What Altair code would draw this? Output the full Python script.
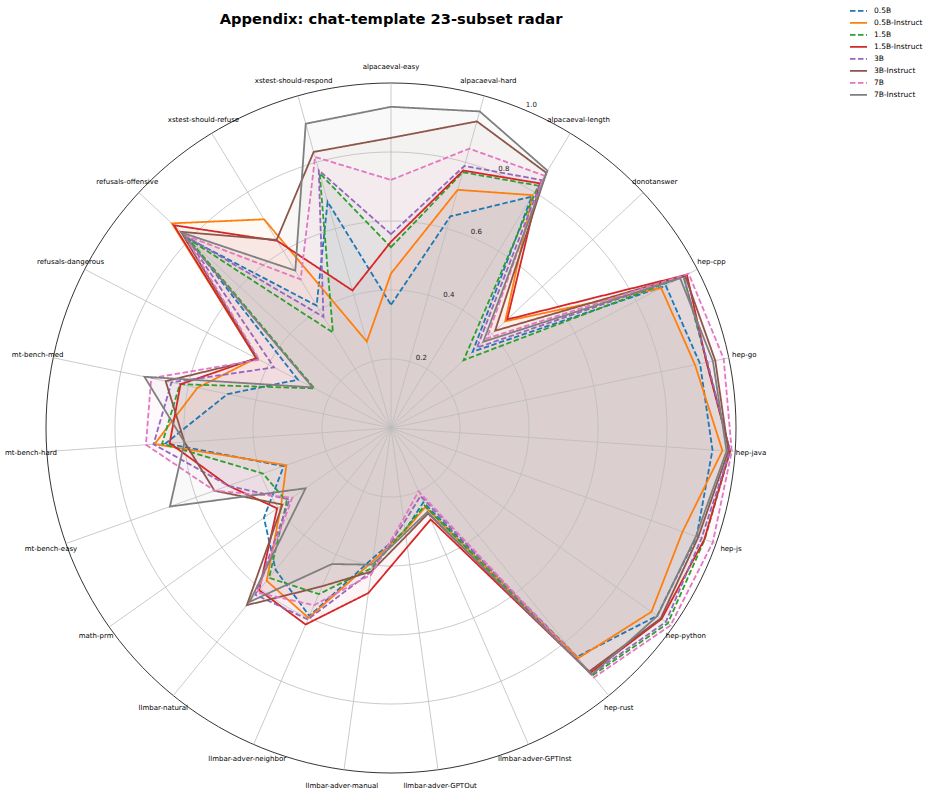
import altair as alt
import pandas as pd

# ---------------- data ----------------
categories = [
    "alpacaeval-easy", "alpacaeval-hard", "alpacaeval-length", "donotanswer",
    "hep-cpp", "hep-go", "hep-java", "hep-js", "hep-python", "hep-rust",
    "llmbar-adver-GPTInst", "llmbar-adver-GPTOut", "llmbar-adver-manual",
    "llmbar-adver-neighbor", "llmbar-natural", "math-prm", "mt-bench-easy",
    "mt-bench-hard", "mt-bench-med", "refusals-dangerous", "refusals-offensive",
    "xstest-should-refuse", "xstest-should-respond",
]

series_names = ["0.5B", "0.5B-Instruct", "1.5B", "1.5B-Instruct",
                "3B", "3B-Instruct", "7B", "7B-Instruct"]
series_colors = ["#1f77b4", "#ff7f0e", "#2ca02c", "#d62728",
                 "#9467bd", "#8c564b", "#e377c2", "#7f7f7f"]
series_dashed = [True, False, True, False, True, False, True, False]

v_05b = [0.357, 0.637, 0.785, 0.324, 0.897, 0.915, 0.934, 0.940, 0.944, 0.855, 0.235, 0.300,
         0.380, 0.594, 0.530, 0.451, 0.330, 0.655, 0.484, 0.304, 0.806, 0.415, 0.681]
v_05b_inst = [0.448, 0.717, 0.790, 0.453, 0.882, 0.900, 0.963, 0.897, 0.924, 0.860, 0.250, 0.300,
              0.390, 0.600, 0.571, 0.390, 0.322, 0.687, 0.573, 0.440, 0.869, 0.708, 0.260]
v_15b = [0.524, 0.770, 0.822, 0.288, 0.955, 0.935, 0.985, 0.965, 0.982, 0.925, 0.245, 0.297,
         0.410, 0.525, 0.560, 0.370, 0.394, 0.665, 0.625, 0.250, 0.803, 0.324, 0.767]
v_15b_inst = [0.540, 0.775, 0.830, 0.461, 0.966, 0.934, 0.985, 0.964, 0.960, 0.915, 0.289, 0.348,
              0.483, 0.621, 0.606, 0.404, 0.500, 0.643, 0.623, 0.440, 0.861, 0.635, 0.414]
v_3b = [0.562, 0.789, 0.841, 0.341, 0.955, 0.937, 0.985, 0.955, 0.975, 0.920, 0.215, 0.277,
        0.420, 0.605, 0.623, 0.360, 0.500, 0.690, 0.650, 0.382, 0.816, 0.377, 0.776]
v_3b_inst = [0.841, 0.923, 0.866, 0.413, 0.960, 0.960, 0.980, 0.945, 0.957, 0.910, 0.270, 0.317,
             0.420, 0.500, 0.662, 0.385, 0.543, 0.600, 0.667, 0.435, 0.833, 0.638, 0.831]
v_7b = [0.719, 0.841, 0.856, 0.380, 0.972, 0.985, 0.990, 0.990, 0.992, 0.932, 0.200, 0.266,
        0.430, 0.560, 0.615, 0.350, 0.543, 0.712, 0.710, 0.430, 0.820, 0.504, 0.816]
v_7b_inst = [0.931, 0.953, 0.873, 0.366, 0.944, 0.953, 0.975, 0.938, 0.945, 0.922, 0.265, 0.307,
             0.400, 0.430, 0.650, 0.303, 0.680, 0.600, 0.730, 0.256, 0.830, 0.534, 0.916]

all_values = [v_05b, v_05b_inst, v_15b, v_15b_inst, v_3b, v_3b_inst, v_7b, v_7b_inst]

grid_levels = [0.2, 0.4, 0.6, 0.8]
tick_values = [0.2, 0.4, 0.6, 0.8, 1.0]
tick_labels = ["0.2", "0.4", "0.6", "0.8", "1.0"]

TITLE = "Appendix: chat-template 23-subset radar"

# ---------------- tables ----------------
N = len(categories)
rows = []
for name, vals in zip(series_names, all_values):
    for i, v in enumerate(vals):
        rows.append({"series": name, "idx": i, "category": categories[i], "value": v})
df = pd.DataFrame(rows)

cat_df = pd.DataFrame({"idx": list(range(N)), "category": categories})

circle_rows = []
for lev in grid_levels + [1.0]:
    for deg in range(0, 361, 2):
        circle_rows.append({"level": lev, "deg": deg})
circle_df = pd.DataFrame(circle_rows)

tick_df = pd.DataFrame({"v": tick_values, "label": tick_labels})

# ---------------- scales ----------------
xs = alt.Scale(domain=[-1, 1], nice=False, zero=False)
ys = alt.Scale(domain=[-1, 1], nice=False, zero=False)
X = lambda f: alt.X(f, type="quantitative", scale=xs, axis=None)
Y = lambda f: alt.Y(f, type="quantitative", scale=ys, axis=None)

theta_expr = f"datum.idx * 2 * PI / {N}"

color_scale = alt.Scale(domain=series_names, range=series_colors)
dash_scale = alt.Scale(domain=series_names,
                       range=[[5.5, 2.5] if d else [1, 0] for d in series_dashed])

legend = alt.Legend(
    title=None, orient="none", legendX=803, legendY=-78,
    symbolType="stroke", symbolSize=289, symbolStrokeWidth=1.8,
    labelFontSize=7.5, labelFont="DejaVu Sans", labelColor="black",
    clipHeight=11.9, rowPadding=0, labelOffset=6,
)

# ---------------- layers ----------------
fills = alt.Chart(df).transform_calculate(
    theta=theta_expr,
    x="datum.value * sin(datum.theta)",
    y="datum.value * cos(datum.theta)",
).mark_line(interpolate="linear-closed", strokeOpacity=0, fillOpacity=0.047).encode(
    x=X("x"), y=Y("y"),
    order=alt.Order("idx:Q"),
    fill=alt.Fill("series:N", scale=color_scale, legend=None),
    detail="series:N",
)

circles = alt.Chart(circle_df).transform_calculate(
    x="datum.level * sin(datum.deg * PI / 180)",
    y="datum.level * cos(datum.deg * PI / 180)",
    outer="datum.level >= 1 ? 'outer' : 'grid'",
).mark_line(strokeWidth=0.8).encode(
    x=X("x"), y=Y("y"),
    order=alt.Order("deg:Q"),
    detail="level:Q",
    stroke=alt.Stroke("outer:N", scale=alt.Scale(domain=["grid", "outer"],
                                                  range=["#bdbdbd", "#000000"]),
                      legend=None),
)

spokes = alt.Chart(cat_df).transform_calculate(
    theta=theta_expr,
    x="sin(datum.theta)",
    y="cos(datum.theta)",
    x0="0",
    y0="0",
).mark_rule(strokeWidth=0.8, color="#bdbdbd").encode(
    x=X("x0"), y=Y("y0"), x2="x:Q", y2="y:Q",
)

lines = alt.Chart(df).transform_calculate(
    theta=theta_expr,
    x="datum.value * sin(datum.theta)",
    y="datum.value * cos(datum.theta)",
).mark_line(interpolate="linear-closed", strokeWidth=1.8).encode(
    x=X("x"), y=Y("y"),
    order=alt.Order("idx:Q"),
    stroke=alt.Stroke("series:N", scale=color_scale, legend=legend),
    strokeDash=alt.StrokeDash("series:N", scale=dash_scale, legend=legend),
)

cat_labels = alt.Chart(cat_df).transform_calculate(
    theta=theta_expr,
    x="1.046 * sin(datum.theta)",
    y="1.046 * cos(datum.theta)",
).mark_text(fontSize=7, font="DejaVu Sans", color="black",
            align="center", baseline="middle").encode(
    x=X("x"), y=Y("y"), text="category:N",
)

tick_text = alt.Chart(tick_df).transform_calculate(
    x="(datum.v + 0.02) * sin(23.5 * PI / 180)",
    y="(datum.v + 0.02) * cos(23.5 * PI / 180)",
).mark_text(fontSize=7, font="DejaVu Sans", color="#222222",
            align="center", baseline="middle").encode(
    x=X("x"), y=Y("y"), text="label:N",
)

chart = alt.layer(fills, circles, spokes, lines, cat_labels, tick_text).resolve_scale(
    stroke="independent", strokeDash="independent"
).properties(
    width=690, height=690,
    title=alt.Title(TITLE, fontSize=14.7, font="DejaVu Sans", fontWeight="bold",
                    anchor="middle", frame="group", offset=-34, baseline="alphabetic",
                    color="black"),
    padding={"left": 46, "top": 83, "right": 195, "bottom": 22},
    autosize=alt.AutoSizeParams(type="none"),
).configure_view(strokeWidth=0)

chart.save("out.html", embed_options={"renderer": "svg", "actions": False})
